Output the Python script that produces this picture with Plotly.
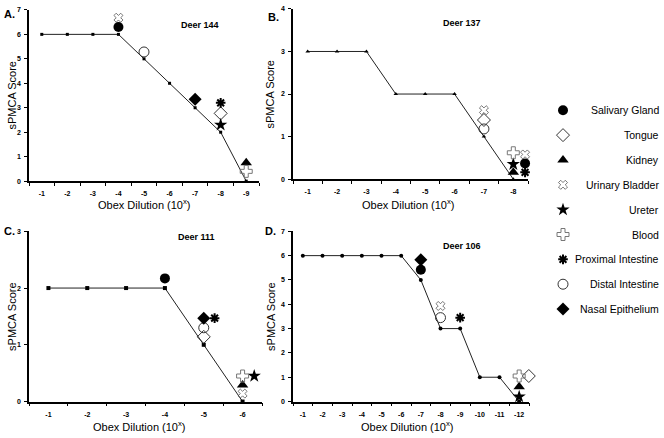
import plotly.graph_objects as go

# ---------------- data ----------------
tissues = ["Salivary Gland", "Tongue", "Kidney", "Urinary Bladder", "Ureter",
           "Blood", "Proximal Intestine", "Distal Intestine", "Nasal Epithelium"]

deer_names = ["Deer 144", "Deer 137", "Deer 111", "Deer 106"]
panel_letters = ["A.", "B.", "C.", "D."]

dil_144 = [-1, -2, -3, -4, -5, -6, -7, -8, -9]
score_144 = [6, 6, 6, 6, 5, 4, 3, 2, 0]
dil_137 = [-1, -2, -3, -4, -5, -6, -7, -8]
score_137 = [3, 3, 3, 2, 2, 2, 1, 0]
dil_111 = [-1, -2, -3, -4, -5, -6]
score_111 = [2, 2, 2, 2, 1, 0]
dil_106 = [-1, -2, -3, -4, -5, -6, -7, -8, -9, -10, -11, -12]
score_106 = [6, 6, 6, 6, 6, 6, 5, 3, 3, 1, 1, 0]

# tissue points: (tissue, dilution, score)
tis_144 = [("Urinary Bladder", -4, 6.68), ("Salivary Gland", -4, 6.3),
           ("Distal Intestine", -5, 5.28), ("Nasal Epithelium", -7, 3.35),
           ("Proximal Intestine", -8, 3.2), ("Tongue", -8, 2.77),
           ("Ureter", -8, 2.3), ("Kidney", -9, 0.75), ("Blood", -9, 0.4)]
tis_137 = [("Urinary Bladder", -7, 1.62), ("Tongue", -7, 1.39),
           ("Distal Intestine", -7, 1.18), ("Blood", -8, 0.62),
           ("Ureter", -8, 0.35), ("Kidney", -8, 0.16),
           ("Urinary Bladder", -8.4, 0.58), ("Salivary Gland", -8.4, 0.37),
           ("Proximal Intestine", -8.4, 0.16)]
tis_111 = [("Salivary Gland", -4, 2.17), ("Nasal Epithelium", -5, 1.47),
           ("Proximal Intestine", -5.28, 1.47), ("Distal Intestine", -5, 1.3),
           ("Tongue", -5, 1.14), ("Blood", -6, 0.45), ("Ureter", -6.3, 0.45),
           ("Kidney", -6, 0.29), ("Urinary Bladder", -6, 0.14)]
tis_106 = [("Nasal Epithelium", -7, 5.83), ("Salivary Gland", -7, 5.42),
           ("Urinary Bladder", -8, 3.93), ("Distal Intestine", -8, 3.45),
           ("Proximal Intestine", -9, 3.45), ("Blood", -12, 1.05),
           ("Tongue", -12.49, 1.05), ("Kidney", -12, 0.61), ("Ureter", -12, 0.2)]

ymax = [7, 4, 3, 7]

# ---------------- styles ----------------
sym = {
    "Salivary Gland": dict(symbol="circle", color="black", size=10, lw=0),
    "Tongue": dict(symbol="diamond-open", color="#333", size=10, lw=1),
    "Kidney": dict(symbol="triangle-up", color="black", size=10, lw=0),
    "Urinary Bladder": dict(symbol="x-open", color="#555", size=8, lw=0.8),
    "Ureter": dict(symbol="star", color="black", size=10, lw=0),
    "Blood": dict(symbol="cross-open", color="#777", size=10, lw=1),
    "Proximal Intestine": dict(symbol="asterisk-open", color="black", size=8, lw=2),
    "Distal Intestine": dict(symbol="circle-open", color="#333", size=10, lw=1),
    "Nasal Epithelium": dict(symbol="diamond", color="black", size=10, lw=0),
}
line_sym = ["square", "triangle-up", "square", "circle"]
line_size = [3, 4, 4, 4]

FONT = "Liberation Sans, Arial, sans-serif"
W, H = 664, 438


def px(x):
    return x / W


def py(y):
    return 1 - y / H


def mk(name):
    st = sym[name]
    return dict(symbol=st["symbol"], size=st["size"], color=st["color"],
                line=dict(width=st["lw"], color=st["color"]))


# domains in pixels (left, right, top, bottom)
dom = [(29, 259, 6, 180), (293, 528, 5, 178), (29, 262, 231, 404), (293, 529, 231, 404)]

fig = go.Figure()
dils = [dil_144, dil_137, dil_111, dil_106]
scores = [score_144, score_137, score_111, score_106]
tis = [tis_144, tis_137, tis_111, tis_106]

for i in range(4):
    ax = "" if i == 0 else str(i + 1)
    fig.add_trace(go.Scatter(
        x=dils[i], y=scores[i], mode="lines+markers",
        line=dict(color="#222", width=1),
        marker=dict(symbol=line_sym[i], size=line_size[i], color="black"),
        xaxis="x" + ax, yaxis="y" + ax, showlegend=False, cliponaxis=False))
    for name in tissues:
        pts = [(d, s) for (t, d, s) in tis[i] if t == name]
        if not pts:
            continue
        fig.add_trace(go.Scatter(
            x=[p[0] for p in pts], y=[p[1] for p in pts], mode="markers",
            marker=mk(name), xaxis="x" + ax, yaxis="y" + ax, showlegend=False,
            cliponaxis=False))
    l, r, t, b = dom[i]
    n = len(dils[i])
    xa = dict(domain=[px(l), px(r)], range=[-0.5, -(n + 0.5)], anchor="y" + ax,
              showgrid=False, zeroline=False, showline=True, linecolor="black",
              linewidth=1.5, tickvals=dils[i], ticktext=[str(d) for d in dils[i]],
              ticks="", ticklen=0, ticklabelstandoff=5,
              tickfont=dict(family=FONT, size=7, color="black", weight="bold"),
              minor=dict(ticks="outside", ticklen=3, tick0=-0.5, dtick=1,
                         tickcolor="black", showgrid=False))
    ya = dict(domain=[py(b), py(t)], range=[0, ymax[i]], anchor="x" + ax,
              showgrid=False, zeroline=False, showline=True, linecolor="black",
              linewidth=1.5, dtick=1, ticks="outside", ticklen=3, tickcolor="black",
              ticklabelstandoff=2,
              tickfont=dict(family=FONT, size=7, color="black", weight="bold"))
    fig.layout["xaxis" + ax] = xa
    fig.layout["yaxis" + ax] = ya

# legend panel (axis 5)
leg_y = list(range(len(tissues)))
for k, name in enumerate(tissues):
    fig.add_trace(go.Scatter(x=[0.5], y=[leg_y[k]], mode="markers", marker=mk(name),
                             xaxis="x5", yaxis="y5", showlegend=False, cliponaxis=False))
fig.layout["xaxis5"] = dict(domain=[px(553), px(573)], range=[0, 1], visible=False, anchor="y5")
fig.layout["yaxis5"] = dict(domain=[py(310), py(108)], range=[len(tissues) - 1, 0],
                            visible=False, anchor="x5")

ann = []
for k, name in enumerate(tissues):
    ann.append(dict(x=px(661), y=leg_y[k], xref="paper", yref="y5", text=name,
                    showarrow=False, xanchor="right", yanchor="middle",
                    font=dict(family=FONT, size=10.5, color="black")))

letter_pos = [(2, 10), (266, 13), (2, 231), (263, 231)]
deer_pos = [(200, 21), (462, 19), (196, 237), (462, 246)]
ytitle_pos = [(12, 93), (270, 92), (12, 318), (271, 318)]
xtitle_pos = [(144, 203), (408, 203), (139, 429), (407, 429)]
for i in range(4):
    ann.append(dict(x=px(letter_pos[i][0]), y=py(letter_pos[i][1]), xref="paper", yref="paper",
                    text="<b>" + panel_letters[i] + "</b>", showarrow=False, xanchor="left",
                    yanchor="middle", font=dict(family=FONT, size=11, color="black")))
    ann.append(dict(x=px(deer_pos[i][0]), y=py(deer_pos[i][1]), xref="paper", yref="paper",
                    text="<b>" + deer_names[i] + "</b>", showarrow=False, xanchor="center",
                    yanchor="middle", font=dict(family=FONT, size=9, color="black")))
    ann.append(dict(x=px(ytitle_pos[i][0]), y=py(ytitle_pos[i][1]), xref="paper", yref="paper",
                    text="sPMCA Score", textangle=-90, showarrow=False, xanchor="center",
                    yanchor="middle", font=dict(family=FONT, size=11, color="black")))
    ann.append(dict(x=px(xtitle_pos[i][0]), y=py(xtitle_pos[i][1]), xref="paper", yref="paper",
                    text="Obex Dilution (10<sup>x</sup>)", showarrow=False, xanchor="center",
                    yanchor="middle", font=dict(family=FONT, size=11, color="black")))

fig.update_layout(width=W, height=H, margin=dict(l=0, r=0, t=0, b=0),
                  paper_bgcolor="white", plot_bgcolor="white", annotations=ann,
                  showlegend=False)

fig.write_html("out.html", config={"displayModeBar": False},
               post_script="document.body.style.margin='0';document.body.style.overflow='hidden';")
